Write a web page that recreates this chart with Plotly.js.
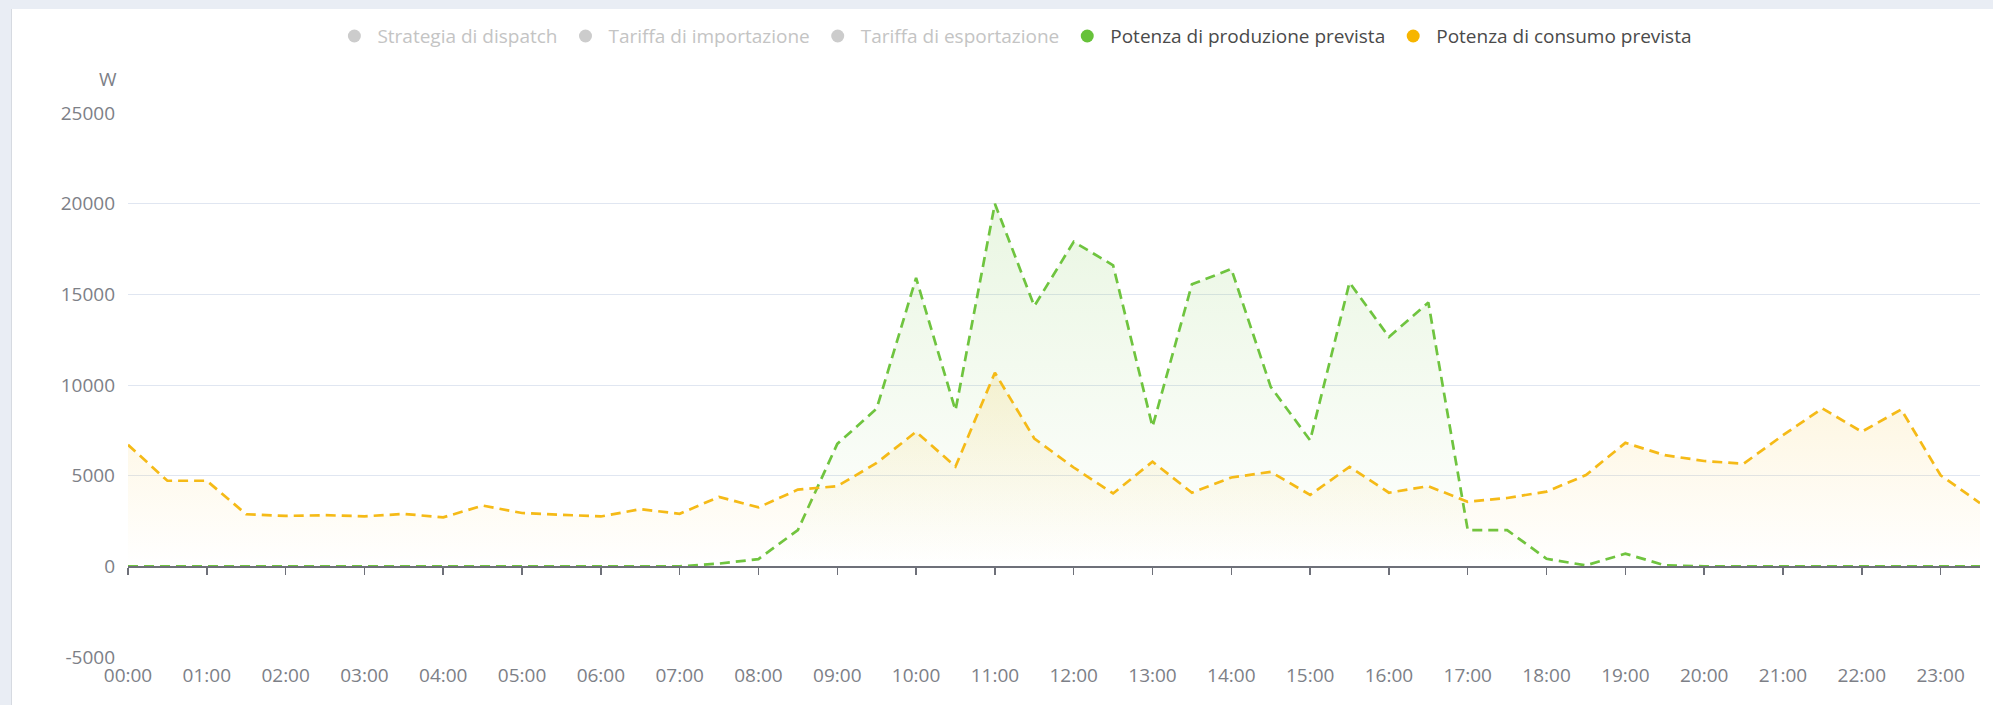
<!DOCTYPE html>
<html>
<head>
<meta charset="utf-8">
<script src="https://cdn.plot.ly/plotly-3.0.1.min.js"></script>
<style>
  html, body { margin: 0; padding: 0; background: #e9edf4; width: 1993px; height: 705px; overflow: hidden; }
  #card { position: absolute; left: 11px; top: 9px; width: 1982px; height: 696px; background: #ffffff; border-left: 1px solid #d6dae1; box-sizing: border-box; }
  #chart { width: 1981px; height: 696px; }
</style>
</head>
<body>
<div id="card"><div id="chart"></div></div>
<script>
const times = ["00:00","00:30","01:00","01:30","02:00","02:30","03:00","03:30","04:00","04:30","05:00","05:30",
  "06:00","06:30","07:00","07:30","08:00","08:30","09:00","09:30","10:00","10:30","11:00","11:30",
  "12:00","12:30","13:00","13:30","14:00","14:30","15:00","15:30","16:00","16:30","17:00","17:30",
  "18:00","18:30","19:00","19:30","20:00","20:30","21:00","21:30","22:00","22:30","23:00","23:30"];

const hourLabels = ["00:00","01:00","02:00","03:00","04:00","05:00","06:00","07:00","08:00","09:00","10:00","11:00",
  "12:00","13:00","14:00","15:00","16:00","17:00","18:00","19:00","20:00","21:00","22:00","23:00"];

const production = [0,0,0,0,0,0,0,0,0,0,0,0,0,0,
  0,150,400,2000,6750,8700,15900,8600,20000,14350,17900,16600,7700,15550,16400,9900,6950,15650,12650,14550,
  2000,2000,420,50,700,60,0,0,0,0,0,0,0,0];

const consumption = [6700,4720,4720,2870,2780,2820,2760,2890,2700,3350,2940,2830,2750,3150,
  2900,3830,3250,4230,4420,5700,7420,5500,10680,7050,5450,4020,5770,4060,4900,5210,3940,5490,4060,4420,
  3560,3770,4120,5030,6810,6130,5810,5660,7230,8710,7420,8650,5020,3490];

const legendNames = ["Strategia di dispatch","Tariffa di importazione","Tariffa di esportazione",
  "Potenza di produzione prevista","Potenza di consumo prevista"];
const yTicks = [-5000,0,5000,10000,15000,20000,25000];
const yTickText = ["-5000","0","5000","10000","15000","20000","25000"];

const GREEN = '#6fc43f', YELLOW = '#f5ba17', GREY = '#cccccc';

const traces = [];
const legendColors = [GREY, GREY, GREY, '#67c23a', '#f7b500'];
legendNames.forEach((n, i) => {
  const active = i >= 3;
  traces.push({
    type: 'scatter', mode: 'markers', x: [null], y: [null],
    name: active ? n : '<span style="color:#c4c4c4">' + n + '</span>',
    marker: { color: legendColors[i], size: 13, symbol: 'circle' },
    showlegend: true, hoverinfo: 'skip'
  });
});

traces.push({
  type: 'scatter', mode: 'lines', x: times, y: production, showlegend: false,
  line: { color: GREEN, width: 2.7, dash: '10px,6px' },
  fill: 'tozeroy',
  fillgradient: { type: 'vertical', colorscale: [[0, 'rgba(111,196,63,0.0)'], [1, 'rgba(111,196,63,0.15)']] },
  cliponaxis: false
});
traces.push({
  type: 'scatter', mode: 'lines', x: times, y: consumption, showlegend: false,
  line: { color: YELLOW, width: 2.7, dash: '10px,6px' },
  fill: 'tozeroy',
  fillgradient: { type: 'vertical', colorscale: [[0, 'rgba(245,186,23,0.0)'], [1, 'rgba(245,186,23,0.15)']] },
  cliponaxis: false
});

const tickIdx = hourLabels.map(h => times.indexOf(h));

const layout = {
  width: 1981, height: 696,
  margin: { l: 116, r: 13, t: 104, b: 48 },
  paper_bgcolor: '#ffffff', plot_bgcolor: '#ffffff',
  font: { family: '"Open Sans", "Noto Sans", sans-serif', color: '#6e7079' },
  showlegend: true,
  legend: {
    orientation: 'h', xref: 'container', yref: 'container',
    x: 0.506, xanchor: 'center', y: 0.961, yanchor: 'middle',
    font: { size: 19, color: '#4a4a4a' }, itemclick: false, itemdoubleclick: false,
    traceorder: 'normal', itemwidth: 36
  },
  xaxis: {
    type: 'category', categoryorder: 'array', categoryarray: times,
    range: [0, times.length - 1],
    tickmode: 'array', tickvals: hourLabels, ticktext: hourLabels,
    showgrid: false, zeroline: false, showline: false, ticks: '',
    tickfont: { size: 19, color: '#7d8087' }, ticklabelstandoff: 5
  },
  xaxis2: {
    overlaying: 'x', anchor: 'free', position: 1 / 6, type: 'linear',
    range: [0, times.length - 1], tickmode: 'array', tickvals: tickIdx,
    showticklabels: false, showgrid: false, zeroline: false,
    showline: true, linecolor: '#6e7079', linewidth: 1.6,
    ticks: 'outside', ticklen: 7, tickwidth: 1.5, tickcolor: '#6e7079'
  },
  yaxis: {
    range: [-5000, 25000], tickmode: 'array', tickvals: yTicks, ticktext: yTickText,
    showgrid: true, gridcolor: '#e0e6f1', gridwidth: 1,
    zeroline: false, showline: false, ticks: '',
    tickfont: { size: 19, color: '#7d8087' }, ticklabelstandoff: 12
  },
  annotations: [{
    text: 'W', xref: 'paper', yref: 'paper', x: 0, y: 1, xanchor: 'center', yanchor: 'middle',
    xshift: -20, yshift: 34, showarrow: false, font: { size: 19, color: '#7d8087' }
  }]
};

traces.push({ type: 'scatter', mode: 'lines', x: [null], y: [null], xaxis: 'x2', showlegend: false, hoverinfo: 'skip' });

Plotly.newPlot('chart', traces, layout, { displayModeBar: false, staticPlot: true });
</script>
</body>
</html>
